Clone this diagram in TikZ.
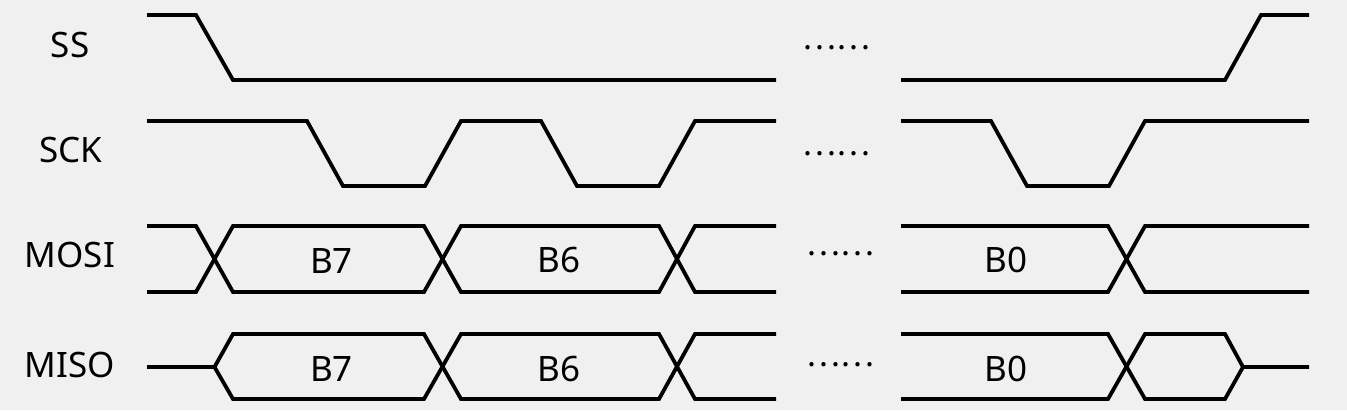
\documentclass[tikz,border=0pt]{standalone}
\usepackage{fontspec}
\setmainfont{Noto Sans}
\newfontfamily\cjkfont{Noto Sans CJK SC}
\definecolor{bgcol}{HTML}{F0F0F0}
\begin{document}
\begin{tikzpicture}[x=1pt,y=-1pt,
  wave/.style={line width=3.8pt,black},
  sig/.style={font=\fontsize{35}{40}\selectfont,inner sep=0pt},
  bits/.style={font=\fontsize{35}{40}\selectfont,inner sep=0pt},
  gap/.style={font=\cjkfont\fontsize{32}{36}\selectfont,inner sep=0pt}]
\fill[bgcol] (0,0) rectangle (1347,410);
\useasboundingbox (0,0) rectangle (1347,410);
% labels
\node[sig] (lss) at (70,45) {SS};
\node[sig] (lsck) at (70.5,150) {SCK};
\node[sig] (lmosi) at (70,255) {MOSI};
\node[sig] (lmiso) at (70,365) {MISO};
% SS
\draw[wave] (147,15) -- (196,15) -- (233,80) -- (776,80);
\draw[wave] (901,80) -- (1225,80) -- (1261,15) -- (1309,15);
% SCK
\draw[wave] (147,121) -- (307,121) -- (343,186) -- (425,186) -- (461,121) -- (541,121) -- (577,186) -- (659,186) -- (695,121) -- (776,121);
\draw[wave] (901,121) -- (991,121) -- (1027,186) -- (1109,186) -- (1145,121) -- (1309,121);
% MOSI
\draw[wave] (147,226) -- (196,226) -- (233,292) -- (424,292) -- (461,226) -- (659,226) -- (695,292) -- (776,292);
\draw[wave] (147,292) -- (196,292) -- (233,226) -- (424,226) -- (461,292) -- (659,292) -- (695,226) -- (776,226);
\draw[wave] (901,226) -- (1108,226) -- (1145,292) -- (1309,292);
\draw[wave] (901,292) -- (1108,292) -- (1145,226) -- (1309,226);
% MISO
\draw[wave] (147,367) -- (214.5,367) -- (233,334) -- (424,334) -- (461,399) -- (659,399) -- (695,334) -- (776,334);
\draw[wave] (214.5,367) -- (233,399) -- (424,399) -- (461,334) -- (659,334) -- (695,399) -- (776,399);
\draw[wave] (901,334) -- (1108,334) -- (1145,399) -- (1225,399) -- (1243,367) -- (1309,367);
\draw[wave] (901,399) -- (1108,399) -- (1145,334) -- (1225,334) -- (1243,367);
% bit labels
\node[bits] (mo7) at (331.5,260.5) {B7};
\node[bits] (mo6) at (559,260) {B6};
\node[bits] (mo0) at (1006,259.7) {B0};
\node[bits] (mi7) at (331.5,368.7) {B7};
\node[bits] (mi6) at (559,369) {B6};
\node[bits] (mi0) at (1006,369) {B0};
% gaps
\node[gap] (gss) at (836,47.7) {……};
\node[gap] (gsck) at (836,153.7) {……};
\node[gap] (gmosi) at (840,254) {……};
\node[gap] (gmiso) at (840,365) {……};
\end{tikzpicture}
\end{document}
